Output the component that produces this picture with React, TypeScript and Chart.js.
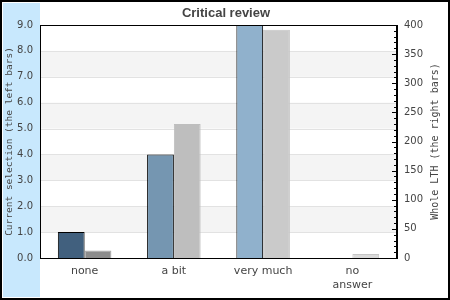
import React, { useEffect, useRef } from 'react';
import { Chart, registerables } from 'chart.js';

Chart.register(...registerables);

const categories: (string | string[])[] = ['none', 'a bit', 'very much', ['no', 'answer']];
const selectionValues = [1.0, 4.0, 9.0, 0];
const lthValues = [13, 230, 392, 7];
const selectionColors = ['#41607e', '#7596b1', '#90b1cc', '#b4cde0'];
const lthColors = ['#8c8c8c', '#bebebe', '#cacaca', '#dadada'];
const lthBorders = ['#a6a6a6', '#bebebe', '#c4c4c4', '#c6c6c6'];
const titleText = 'Critical review';
const leftTitle = 'Current selection (the left bars)';
const rightTitle = 'Whole LTH (the right bars)';

const decorPlugin = {
  id: 'decor',
  beforeDraw(chart: any) {
    const ctx = chart.ctx;
    ctx.save();
    ctx.fillStyle = '#ffffff';
    ctx.fillRect(0, 0, chart.width, chart.height);
    ctx.fillStyle = '#c8e8fd';
    ctx.fillRect(3, 3, 37, 294);
    ctx.strokeStyle = '#000';
    ctx.lineWidth = 2;
    ctx.strokeRect(1, 1, chart.width - 2, chart.height - 2);
    ctx.fillStyle = '#444';
    ctx.font = 'bold 13px "Liberation Sans", Arial, sans-serif';
    ctx.textAlign = 'center';
    ctx.textBaseline = 'alphabetic';
    ctx.fillText(titleText, chart.width / 2 + 1, 16.5);
    ctx.restore();
  },
  beforeDatasetsDraw(chart: any) {
    const ctx = chart.ctx;
    const y = chart.scales.y;
    const a = chart.chartArea;
    ctx.save();
    ctx.fillStyle = '#f4f4f4';
    for (let v = 1; v < 9; v += 2) {
      const top = y.getPixelForValue(v + 1);
      const bot = y.getPixelForValue(v);
      ctx.fillRect(a.left, top, a.right - a.left, bot - top);
    }
    ctx.strokeStyle = '#e2e2e2';
    ctx.lineWidth = 1;
    for (let v = 1; v < 9; v++) {
      const p = Math.round(y.getPixelForValue(v)) + 0.5;
      ctx.beginPath();
      ctx.moveTo(a.left, p);
      ctx.lineTo(a.right, p);
      ctx.stroke();
    }
    ctx.restore();
  },
  afterDraw(chart: any) {
    const ctx = chart.ctx;
    const a = chart.chartArea;
    const y2 = chart.scales.y2;
    ctx.save();
    ctx.strokeStyle = '#000';
    ctx.lineWidth = 1;
    ctx.strokeRect(Math.round(a.left) + 0.5, Math.round(a.top) + 0.5, Math.round(a.right - a.left) - 1, Math.round(a.bottom - a.top));
    for (let v = 0; v <= 400; v += 10) {
      const p = Math.round(y2.getPixelForValue(v)) + 0.5;
      const len = v % 50 === 0 ? 5 : 3;
      ctx.beginPath();
      ctx.moveTo(Math.round(a.right) - len, p);
      ctx.lineTo(Math.round(a.right), p);
      ctx.stroke();
    }
    ctx.fillStyle = '#444';
    ctx.textAlign = 'center';
    ctx.textBaseline = 'middle';
    const cy = (a.top + a.bottom) / 2;
    ctx.font = '9.5px "DejaVu Sans Mono", monospace';
    ctx.translate(10, cy);
    ctx.rotate(-Math.PI / 2);
    ctx.fillText(leftTitle, 0, 0);
    ctx.setTransform(1, 0, 0, 1, 0, 0);
    ctx.font = '10px "DejaVu Sans Mono", monospace';
    ctx.translate(435, cy);
    ctx.rotate(-Math.PI / 2);
    ctx.fillText(rightTitle, 0, 0);
    ctx.restore();
  },
};

export default function App() {
  const ref = useRef<HTMLCanvasElement>(null);
  useEffect(() => {
    document.body.style.margin = '0';
    const chart = new Chart(ref.current!, {
      type: 'bar',
      data: {
        labels: categories,
        datasets: [
          {
            data: selectionValues,
            yAxisID: 'y',
            backgroundColor: selectionColors,
            borderColor: '#000',
            borderWidth: 1,
            borderSkipped: 'bottom',
            categoryPercentage: 0.6,
            barPercentage: 1.0,
          },
          {
            data: lthValues,
            yAxisID: 'y2',
            backgroundColor: lthColors,
            borderColor: lthBorders,
            borderWidth: 1,
            borderSkipped: 'bottom',
            categoryPercentage: 0.6,
            barPercentage: 1.0,
          },
        ],
      },
      options: {
        animation: false,
        responsive: true,
        maintainAspectRatio: false,
        layout: { padding: { top: 25, left: 0, right: 0, bottom: 0 } },
        plugins: { legend: { display: false }, tooltip: { enabled: false }, title: { display: false } },
        scales: {
          x: {
            offset: true,
            grid: { display: false, drawTicks: false },
            border: { display: true, color: '#000' },
            ticks: {
              color: '#444',
              padding: 6,
              font: { family: '"DejaVu Sans", sans-serif', size: 11, lineHeight: 1.3 },
              maxRotation: 0,
              autoSkip: false,
            },
            afterFit(s: any) { s.height = 42; },
          },
          y: {
            position: 'left',
            min: 0,
            max: 9,
            grid: { display: false, drawTicks: false },
            border: { display: true, color: '#000' },
            ticks: {
              stepSize: 1,
              color: '#444',
              padding: 7,
              font: { family: '"DejaVu Sans", sans-serif', size: 10 },
              callback: (v: any) => Number(v).toFixed(1),
            },
            afterFit(s: any) { s.width = 40; },
          },
          y2: {
            position: 'right',
            min: 0,
            max: 400,
            grid: { display: false, drawTicks: false },
            border: { display: true, color: '#000' },
            ticks: {
              stepSize: 50,
              color: '#444',
              padding: 7,
              font: { family: '"DejaVu Sans", sans-serif', size: 10 },
            },
            afterFit(s: any) { s.width = 53; },
          },
        },
      },
      plugins: [decorPlugin],
    });
    return () => chart.destroy();
  }, []);
  return (
    <div style={{ width: 450, height: 300, position: 'relative' }}>
      <canvas ref={ref} />
    </div>
  );
}
